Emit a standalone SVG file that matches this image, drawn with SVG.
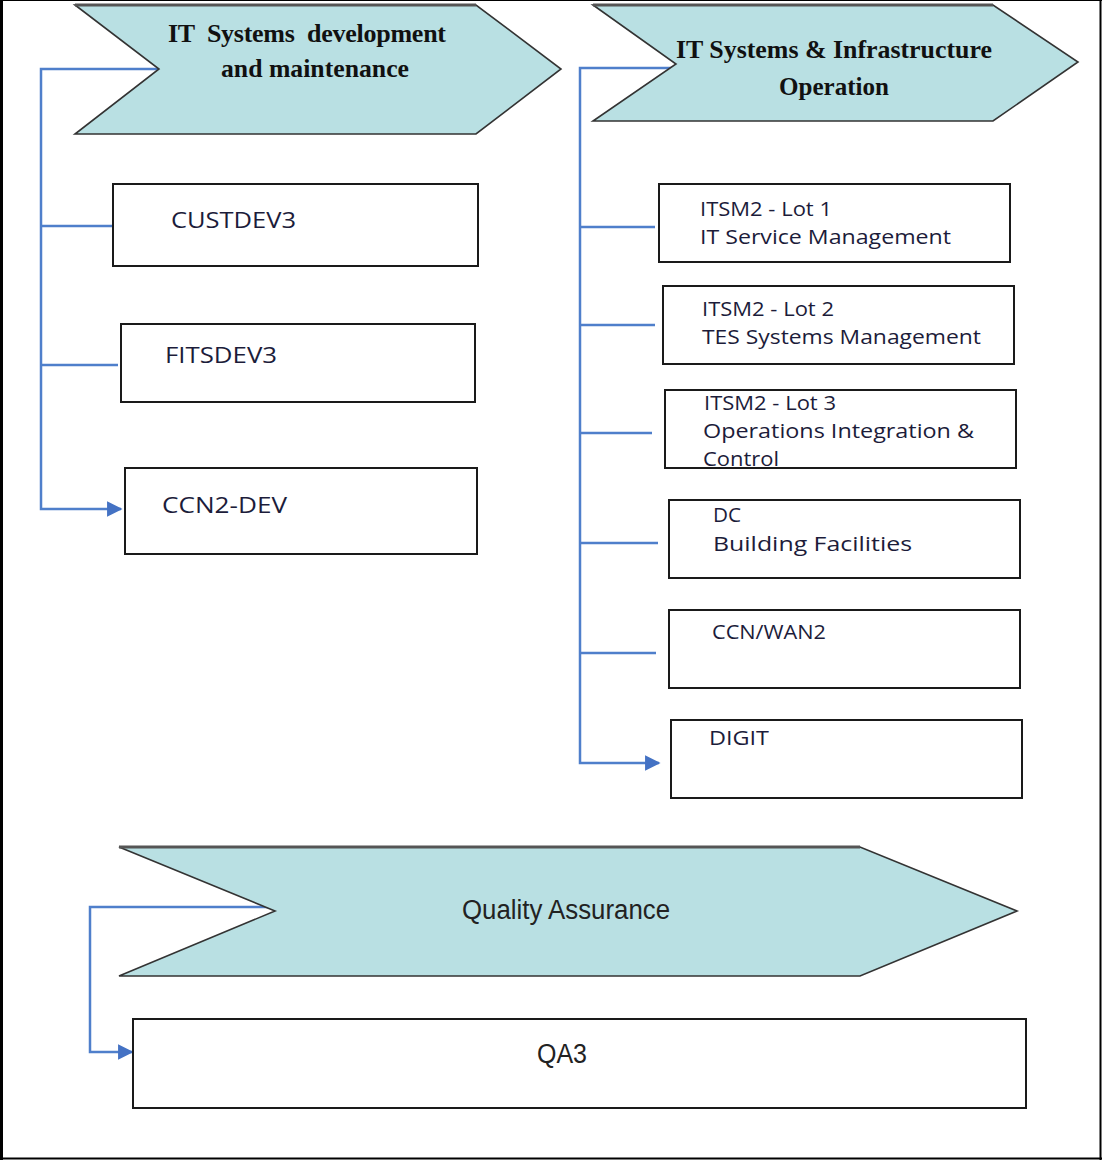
<svg xmlns="http://www.w3.org/2000/svg" width="1102" height="1160" viewBox="0 0 1102 1160">
  <style>
    .chev { fill: #b9e0e3; stroke: #333; stroke-width: 1.6; stroke-linejoin: miter; }
    .chev-top { stroke: #555; stroke-width: 3; fill: none; }
    .box { fill: #fff; stroke: #1a1a1a; stroke-width: 2; }
    .conn { fill: none; stroke: #4f7fcb; stroke-width: 2.5; }
    .head { font-family: "Liberation Serif", "Times New Roman", serif; font-weight: bold; font-size: 26px; fill: #111; }
    .lbl { font-family: "Open Sans", "Noto Sans", "Liberation Sans", sans-serif; font-size: 20px; fill: #1c1c3a; }
    .big { font-family: "Open Sans", "Noto Sans", "Liberation Sans", sans-serif; font-size: 22px; fill: #1c1c3a; }
    .qa { font-family: "Liberation Sans Narrow", "Liberation Sans", Arial, sans-serif; font-size: 27px; fill: #222; }
  </style>
  <defs>
    <marker id="arrow" viewBox="0 0 10 10" refX="9" refY="5" markerWidth="6.2" markerHeight="6.2" orient="auto" markerUnits="strokeWidth">
      <path d="M0,0 L10,5 L0,10 z" fill="#4472c4"/>
    </marker>
  </defs>

  <rect x="0" y="0" width="1102" height="1160" fill="#fff"/>

  <!-- frame -->
  <g id="frame" stroke="#000" fill="none">
    <line x1="1.5" y1="0" x2="1.5" y2="1160" stroke-width="3"/>
    <line x1="0" y1="0.5" x2="1102" y2="0.5" stroke-width="1"/>
    <line x1="1100.5" y1="0" x2="1100.5" y2="1160" stroke-width="2"/>
    <line x1="0" y1="1158.5" x2="1102" y2="1158.5" stroke-width="2"/>
  </g>

  <!-- connectors -->
  <g id="connectors">
    <polyline class="conn" points="159,69 41,69 41,509 121,509" marker-end="url(#arrow)"/>
    <line class="conn" x1="41" y1="226" x2="113" y2="226"/>
    <line class="conn" x1="41" y1="365" x2="118" y2="365"/>

    <polyline class="conn" points="676,68 580,68 580,763 659,763" marker-end="url(#arrow)"/>
    <line class="conn" x1="580" y1="227" x2="655" y2="227"/>
    <line class="conn" x1="580" y1="325" x2="655" y2="325"/>
    <line class="conn" x1="580" y1="433" x2="652" y2="433"/>
    <line class="conn" x1="580" y1="543" x2="658" y2="543"/>
    <line class="conn" x1="580" y1="653" x2="656" y2="653"/>

    <polyline class="conn" points="273,907 90,907 90,1052 132,1052" marker-end="url(#arrow)"/>
  </g>

  <!-- group headers -->
  <g id="dev-header">
    <polygon class="chev" points="75,5 476,5 561,69 476,134 75,134 159,69"/>
    <line class="chev-top" x1="75" y1="5" x2="476" y2="5"/>
    <text class="head" x="168" y="42" textLength="278" lengthAdjust="spacing" xml:space="preserve">IT  Systems  development</text>
    <text class="head" x="221" y="77" textLength="188" lengthAdjust="spacingAndGlyphs">and maintenance</text>
  </g>

  <g id="ops-header">
    <polygon class="chev" points="593,5 993,5 1078,62 993,121 593,121 676,64"/>
    <line class="chev-top" x1="593" y1="5" x2="993" y2="5"/>
    <text class="head" x="676" y="58" textLength="316" lengthAdjust="spacingAndGlyphs">IT Systems &amp; Infrastructure</text>
    <text class="head" x="779" y="95" textLength="110" lengthAdjust="spacingAndGlyphs">Operation</text>
  </g>

  <g id="qa-header">
    <polygon class="chev" points="119,847 860,847 1017,911 860,976 119,976 275,911"/>
    <line class="chev-top" x1="119" y1="847" x2="860" y2="847"/>
    <text class="qa" x="566" y="919" text-anchor="middle" textLength="208" lengthAdjust="spacingAndGlyphs">Quality Assurance</text>
  </g>

  <!-- development contracts -->
  <g id="custdev3">
    <rect class="box" x="113" y="184" width="365" height="82"/>
    <text class="big" x="171" y="228" textLength="125" lengthAdjust="spacingAndGlyphs">CUSTDEV3</text>
  </g>
  <g id="fitsdev3">
    <rect class="box" x="121" y="324" width="354" height="78"/>
    <text class="big" x="165" y="363" textLength="112" lengthAdjust="spacingAndGlyphs">FITSDEV3</text>
  </g>
  <g id="ccn2-dev">
    <rect class="box" x="125" y="468" width="352" height="86"/>
    <text class="big" x="162" y="513" textLength="125" lengthAdjust="spacingAndGlyphs">CCN2-DEV</text>
  </g>

  <!-- operation contracts -->
  <g id="itsm2-lot1">
    <rect class="box" x="659" y="184" width="351" height="78"/>
    <text class="lbl" x="700" y="216" textLength="132" lengthAdjust="spacingAndGlyphs">ITSM2 - Lot 1</text>
    <text class="lbl" x="700" y="244" textLength="251" lengthAdjust="spacingAndGlyphs">IT Service Management</text>
  </g>
  <g id="itsm2-lot2">
    <rect class="box" x="663" y="286" width="351" height="78"/>
    <text class="lbl" x="702" y="316" textLength="132" lengthAdjust="spacingAndGlyphs">ITSM2 - Lot 2</text>
    <text class="lbl" x="702" y="344" textLength="279" lengthAdjust="spacingAndGlyphs">TES Systems Management</text>
  </g>
  <g id="itsm2-lot3">
    <rect class="box" x="665" y="390" width="351" height="78"/>
    <text class="lbl" x="704" y="410" textLength="132" lengthAdjust="spacingAndGlyphs">ITSM2 - Lot 3</text>
    <text class="lbl" x="703" y="438" textLength="271" lengthAdjust="spacingAndGlyphs">Operations Integration &amp;</text>
    <text class="lbl" x="703" y="466" textLength="76" lengthAdjust="spacingAndGlyphs">Control</text>
  </g>
  <g id="dc">
    <rect class="box" x="669" y="500" width="351" height="78"/>
    <text class="lbl" x="713" y="522" textLength="28" lengthAdjust="spacingAndGlyphs">DC</text>
    <text class="lbl" x="713" y="551" textLength="199" lengthAdjust="spacingAndGlyphs">Building Facilities</text>
  </g>
  <g id="ccn-wan2">
    <rect class="box" x="669" y="610" width="351" height="78"/>
    <text class="lbl" x="712" y="639" textLength="114" lengthAdjust="spacingAndGlyphs">CCN/WAN2</text>
  </g>
  <g id="digit">
    <rect class="box" x="671" y="720" width="351" height="78"/>
    <text class="lbl" x="709" y="745" textLength="60" lengthAdjust="spacingAndGlyphs">DIGIT</text>
  </g>

  <!-- quality assurance contract -->
  <g id="qa3">
    <rect class="box" x="133" y="1019" width="893" height="89"/>
    <text class="qa" x="562" y="1063" text-anchor="middle" font-size="25" textLength="50" lengthAdjust="spacingAndGlyphs">QA3</text>
  </g>
</svg>
